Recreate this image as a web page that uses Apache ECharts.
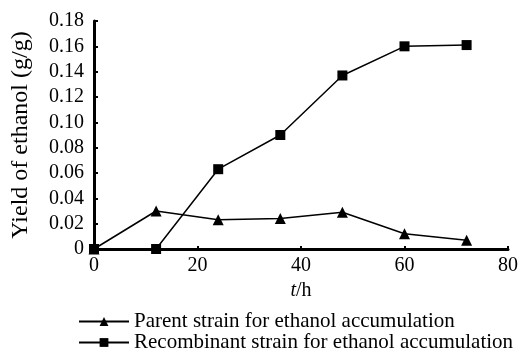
<!DOCTYPE html>
<html>
<head>
<meta charset="utf-8">
<script src="https://cdn.jsdelivr.net/npm/echarts@6/dist/echarts.min.js"></script>
<style>
    html, body { margin: 0; padding: 0; background: #fff; }
    #chart { width: 521px; height: 352px; }
</style>
</head>
<body>
<div id="chart"></div>
<script>
// time points (h)
const hours = [0, 12, 24, 36, 48, 60, 72];
// yield of ethanol (g/g)
const parentYield = [0, 0.030, 0.023, 0.024, 0.029, 0.012, 0.007];
const recombinantYield = [0, 0, 0.063, 0.090, 0.137, 0.160, 0.161];
const seriesNames = [
    "Parent strain for ethanol accumulation",
    "Recombinant strain for ethanol accumulation",
];

const serif = "Liberation Serif";

// one legend box per row, so they stack like the original
const legendRow = (name, top) => ({
    orient: "horizontal",
    left: 78,
    top: top,
    padding: 0,
    itemWidth: 50,
    itemHeight: 11,
    itemGap: 0,
    textStyle: { fontFamily: serif, fontSize: 21, color: "#000" },
    data: [name],
});

const option = {
    animation: false,
    textStyle: { fontFamily: serif, color: "#000" },
    grid: {
        left: 94,
        right: 8,
        top: 21,
        bottom: 103,
    },
    legend: [
        legendRow(seriesNames[0], 311),
        legendRow(seriesNames[1], 332),
    ],
    xAxis: {
        type: "value",
        min: 0,
        max: 80,
        interval: 20,
        name: "{i|t}/h",
        nameLocation: "middle",
        nameGap: 30,
        nameTextStyle: {
            fontFamily: serif,
            fontSize: 20,
            color: "#000",
            rich: {
                i: { fontStyle: "italic", fontFamily: serif, fontSize: 20, color: "#000" },
            },
        },
        axisLine: { lineStyle: { color: "#000", width: 3 } },
        axisTick: { inside: true, length: 3, lineStyle: { color: "#000", width: 2 } },
        axisLabel: { fontFamily: serif, fontSize: 20, color: "#000", margin: 7 },
        splitLine: { show: false },
    },
    yAxis: {
        type: "value",
        min: 0,
        max: 0.18,
        interval: 0.02,
        name: "Yield of ethanol (g/g)",
        nameLocation: "middle",
        nameRotate: 90,
        nameGap: 61,
        nameTextStyle: { fontFamily: serif, fontSize: 24, color: "#000" },
        axisLine: { lineStyle: { color: "#000", width: 3 } },
        axisTick: { inside: true, length: 4, lineStyle: { color: "#000", width: 2 } },
        axisLabel: {
            fontFamily: serif,
            fontSize: 20,
            color: "#000",
            margin: 10,
            formatter: (v) => (v === 0 ? "0" : v.toFixed(2)),
        },
        splitLine: { show: false },
    },
    series: [
        {
            name: seriesNames[0],
            type: "line",
            symbol: "triangle",
            symbolSize: 11,
            itemStyle: { color: "#000" },
            lineStyle: { color: "#000", width: 1.5 },
            data: hours.map((h, i) => [h, parentYield[i]]),
        },
        {
            name: seriesNames[1],
            type: "line",
            symbol: "rect",
            symbolSize: 10,
            itemStyle: { color: "#000" },
            lineStyle: { color: "#000", width: 1.5 },
            data: hours.map((h, i) => [h, recombinantYield[i]]),
        },
    ],
};

const chart = echarts.init(document.getElementById("chart"));
chart.setOption(option);
</script>
</body>
</html>
